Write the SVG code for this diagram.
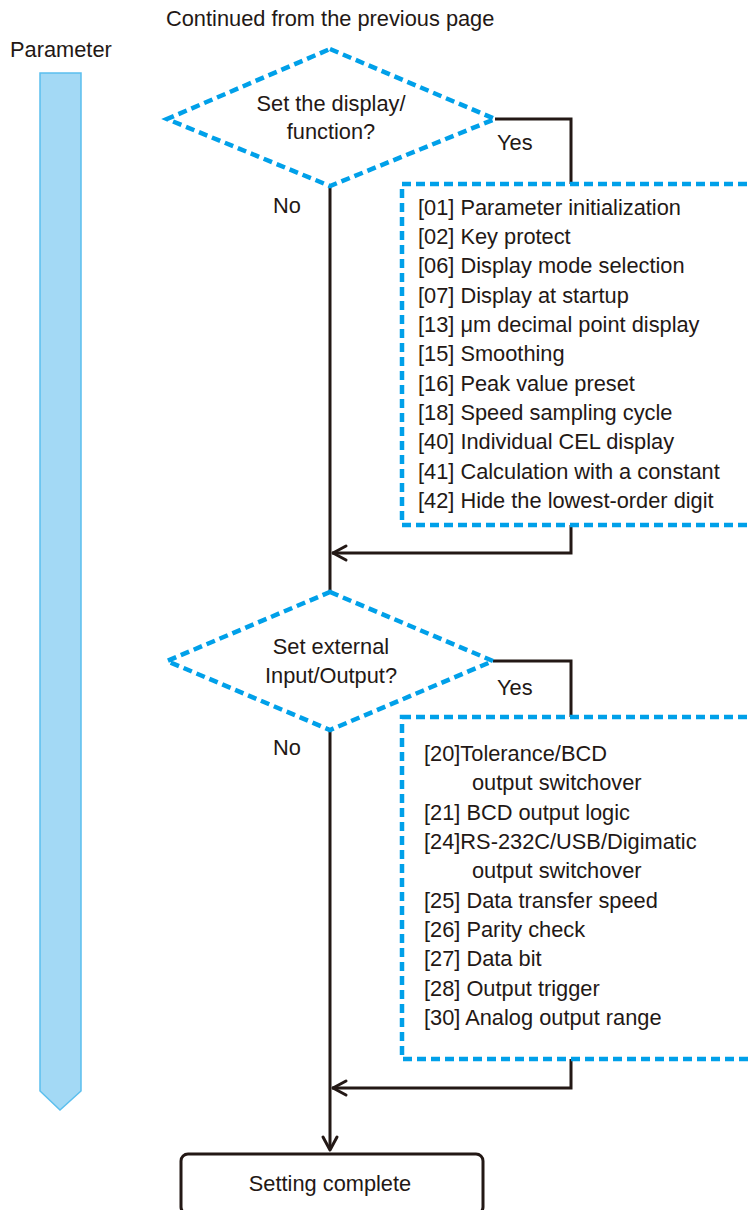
<svg xmlns="http://www.w3.org/2000/svg" width="748" height="1210" viewBox="0 0 748 1210">
<style>
text{font-family:"Liberation Sans",Arial,sans-serif;font-size:21.8px;fill:#231815}
.c{text-anchor:middle}
.dash{fill:none;stroke:#00a0e9;stroke-width:4.5;stroke-dasharray:9 5}
.ln{fill:none;stroke:#231815;stroke-width:3}
.ah{fill:none;stroke:#231815;stroke-width:3;stroke-linecap:round;stroke-linejoin:round}
</style>
<rect width="748" height="1210" fill="#fff"/>
<text x="166" y="26">Continued from the previous page</text>
<g id="param-bar">
<text x="10" y="57">Parameter</text>
<path d="M40,73 H81 V1091 L60,1110 L40,1091 Z" fill="#a3d9f5" stroke="#5bbfee" stroke-width="1.5"/>
</g>
<g id="connectors">
<path class="ln" d="M330,186 V592"/>
<path class="ln" d="M495,119 H571 V184"/>
<path class="ln" d="M571,525 V553 H332"/>
<path class="ah" d="M346,546 L333,553 L346,560"/>
<path class="ln" d="M330,730 V1149"/>
<path class="ln" d="M493,661 H571 V717"/>
<path class="ln" d="M571,1059 V1088 H332"/>
<path class="ah" d="M346,1081 L333,1088 L346,1095"/>
<path class="ah" d="M323,1137 L330,1150 L337,1137"/>
</g>
<g id="decision1">
<path class="dash" d="M330,49 L495,119 L330,186 L167,119 Z"/>
<text class="c" x="331" y="111">Set the display/</text>
<text class="c" x="331" y="139">function?</text>
<text x="497" y="150">Yes</text>
<text x="273" y="213">No</text>
</g>
<g id="box1">
<rect class="dash" x="402" y="184" width="380" height="341"/>
<text x="418" y="215">[01] Parameter initialization</text>
<text x="418" y="244">[02] Key protect</text>
<text x="418" y="273">[06] Display mode selection</text>
<text x="418" y="303">[07] Display at startup</text>
<text x="418" y="332">[13] μm decimal point display</text>
<text x="418" y="361">[15] Smoothing</text>
<text x="418" y="391">[16] Peak value preset</text>
<text x="418" y="420">[18] Speed sampling cycle</text>
<text x="418" y="449">[40] Individual CEL display</text>
<text x="418" y="479">[41] Calculation with a constant</text>
<text x="418" y="508">[42] Hide the lowest-order digit</text>
</g>
<g id="decision2">
<path class="dash" d="M330,592 L493,661 L330,730 L167,661 Z"/>
<text class="c" x="331" y="654">Set external</text>
<text class="c" x="331" y="683">Input/Output?</text>
<text x="497" y="695">Yes</text>
<text x="273" y="755">No</text>
</g>
<g id="box2">
<rect class="dash" x="402" y="717" width="380" height="342"/>
<text x="424" y="761">[20]Tolerance/BCD</text>
<text x="472" y="790">output switchover</text>
<text x="424" y="820">[21] BCD output logic</text>
<text x="424" y="849">[24]RS-232C/USB/Digimatic</text>
<text x="472" y="878">output switchover</text>
<text x="424" y="908">[25] Data transfer speed</text>
<text x="424" y="937">[26] Parity check</text>
<text x="424" y="966">[27] Data bit</text>
<text x="424" y="996">[28] Output trigger</text>
<text x="424" y="1025">[30] Analog output range</text>
</g>
<g id="terminal">
<rect x="181" y="1154" width="302" height="60" rx="7" fill="#fff" stroke="#231815" stroke-width="3"/>
<text class="c" x="330" y="1191">Setting complete</text>
</g>
</svg>
